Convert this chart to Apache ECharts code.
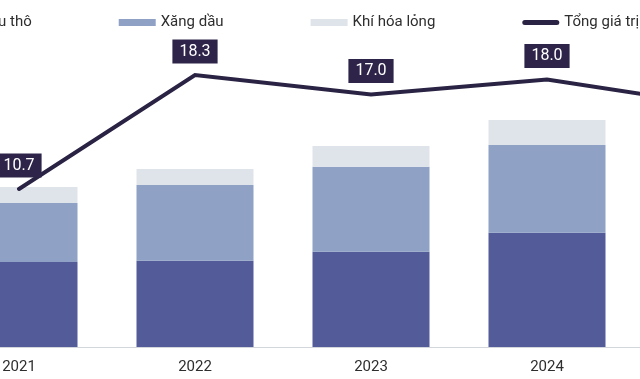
<!DOCTYPE html>
<html>
<head>
<meta charset="utf-8">
<script src="https://cdn.jsdelivr.net/npm/echarts@6/dist/echarts.min.js"></script>
<style>
html,body{margin:0;padding:0;background:#fff;}
#c{width:640px;height:379px;}
</style>
</head>
<body>
<div id="c"></div>
<script>
var years = ['2021', '2022', '2023', '2024', '2025'];
var crudeOil = [5.67, 5.75, 6.35, 7.62, null];
var petrol = [3.93, 5.05, 5.67, 5.85, null];
var lpg = [1.07, 1.07, 1.38, 1.67, null];
var totalValue = [10.7, 18.3, 17.0, 18.0, 16.2];

var chart = echarts.init(document.getElementById('c'), null, {renderer: 'canvas'});
var font = 'Roboto, "Noto Sans", sans-serif';
chart.setOption({
  animation: false,
  backgroundColor: '#ffffff',
  textStyle: {fontFamily: font},
  legend: {
    left: -67,
    top: 10,
    width: 1000,
    itemWidth: 37,
    itemHeight: 7,
    itemGap: 87,
    textStyle: {fontSize: 15, color: '#2e2e2e', fontFamily: font},
    data: [
      {name: 'Dầu thô', icon: 'rect'},
      {name: 'Xăng dầu', icon: 'rect'},
      {name: 'Khí hóa lỏng', icon: 'rect'},
      {name: 'Tổng giá trị', icon: 'path://M0,2.5 A2.5,2.5 0 0 1 2.5,0 L34.5,0 A2.5,2.5 0 0 1 34.5,5 L2.5,5 A2.5,2.5 0 0 1 0,2.5 Z'}
    ]
  },
  grid: [
    {left: -69, right: -171, top: 47, bottom: 32, outerBoundsMode: 'none', containLabel: false},
    {left: -69, right: -171, top: 49.5, bottom: 29.5, outerBoundsMode: 'none', containLabel: false}
  ],
  xAxis: [
    {
      type: 'category', gridIndex: 0,
      data: years,
      axisTick: {show: false},
      axisLine: {lineStyle: {color: '#d3d6db', width: 1}},
      axisLabel: {fontSize: 15, color: '#2e2e2e', margin: 13, fontFamily: font}
    },
    {type: 'category', gridIndex: 1, data: years, show: false}
  ],
  yAxis: [
    {type: 'value', gridIndex: 0, min: 0, max: 20, show: false},
    {type: 'value', gridIndex: 1, min: 0, max: 20, show: false}
  ],
  series: [
    {name: 'Dầu thô', type: 'bar', stack: 'v', barWidth: 117, data: crudeOil,
     itemStyle: {color: '#545b99'}},
    {name: 'Xăng dầu', type: 'bar', stack: 'v', barWidth: 117, data: petrol,
     itemStyle: {color: '#8fa1c5'}},
    {name: 'Khí hóa lỏng', type: 'bar', stack: 'v', barWidth: 117, data: lpg,
     itemStyle: {color: '#dfe3ea'}},
    {name: 'Tổng giá trị', type: 'line', xAxisIndex: 1, yAxisIndex: 1, data: totalValue,
     symbol: 'circle', symbolSize: 1, showSymbol: true, z: 10,
     lineStyle: {color: '#2a2343', width: 4, cap: 'round', join: 'miter'},
     itemStyle: {color: '#2a2343'},
     label: {
       show: true, position: 'top', distance: 11,
       formatter: function (p) { return Number(p.value).toFixed(1); },
       backgroundColor: '#2e2449', color: '#ffffff',
       fontSize: 16, lineHeight: 16, padding: [4, 7, 4, 7], fontFamily: font
     }}
  ]
});
</script>
</body>
</html>
